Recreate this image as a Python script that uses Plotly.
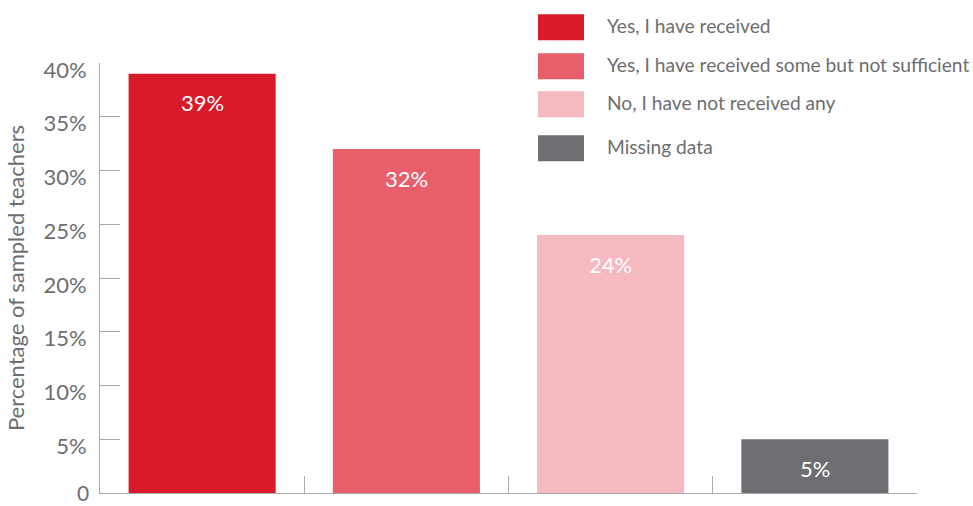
import plotly.graph_objects as go

categories = ["Yes, I have received",
              "Yes, I have received some but not sufficient",
              "No, I have not received any",
              "Missing data"]
values = [39, 32, 24, 5]
bar_labels = ["39%", "32%", "24%", "5%"]
colors = ["#d91a2a", "#e85e6b", "#f5b9bf", "#6d6e71"]
y_tickvals = [0, 5, 10, 15, 20, 25, 30, 35, 40]
y_ticktext = ["0", "5%", "10%", "15%", "20%", "25%", "30%", "35%", "40%"]

FONT = "Lato"
TXT = "#6d6e71"
AX = "#a7a9ac"

fig = go.Figure()
fig.add_trace(go.Bar(
    x=categories, y=values,
    marker=dict(color=colors, line=dict(width=0)),
    showlegend=False, hoverinfo="skip",
))

for c, v, t in zip(categories, values, bar_labels):
    fig.add_annotation(x=c, y=v, text=t, showarrow=False, yshift=-29,
                       font=dict(family=FONT, size=22, color="white"))

# the bottom tick label sits at the baseline (plotly hides shifted labels outside range)
fig.add_annotation(xref="paper", x=0, y=y_tickvals[0], text=y_ticktext[0],
                   showarrow=False, xanchor="right", yanchor="middle",
                   xshift=-10, yshift=1, borderpad=0,
                   font=dict(family=FONT, size=21, color=TXT))

# custom legend
leg_x0, leg_w, leg_h = 538, 46, 26
leg_centers = [27, 66, 104, 148]
W, H = 973, 506
for c, lab, yc in zip(colors, categories, leg_centers):
    fig.add_shape(type="rect", xref="paper", yref="paper",
                  x0=(leg_x0 - 100) / 817, x1=(leg_x0 + leg_w - 100) / 817,
                  y0=(492.7 - (yc + leg_h / 2)) / 430, y1=(492.7 - (yc - leg_h / 2)) / 430,
                  fillcolor=c, line=dict(width=0), layer="above")
    fig.add_annotation(xref="paper", yref="paper",
                       x=(605 - 100) / 817, y=(492.7 - (yc - 2)) / 430,
                       xanchor="left", yanchor="middle", text=lab, showarrow=False,
                       font=dict(family=FONT, size=19.2, color=TXT))

fig.update_layout(
    width=W, height=H,
    margin=dict(l=100, r=56, t=63, b=13, pad=0, autoexpand=False),
    paper_bgcolor="white", plot_bgcolor="white",
    bargap=0.28,
    font=dict(family=FONT, color=TXT),
    xaxis=dict(type="category", range=[-0.5, 3.5], showticklabels=False,
               tickson="boundaries", ticks="inside", ticklen=17, tickcolor=AX,
               showline=True, linecolor=AX, linewidth=1, showgrid=False,
               zeroline=False, fixedrange=True, automargin=False),
    yaxis=dict(range=[0, 40], tickvals=y_tickvals, ticktext=y_ticktext,
               ticks="inside", ticklen=20, tickcolor=AX, showline=True,
               linecolor=AX, linewidth=1, showgrid=False, zeroline=False,
               automargin=False, fixedrange=True,
               tickfont=dict(family=FONT, size=22, color=TXT),
               ticklabelshift=7, ticklabelstandoff=8,
               title=dict(text="Percentage of sampled teachers", standoff=12,
                          font=dict(family=FONT, size=22, color=TXT))),
)

fig.write_html("out.html", config={"displayModeBar": False},
               post_script="document.body.style.margin='0';document.body.style.overflow='hidden';")
